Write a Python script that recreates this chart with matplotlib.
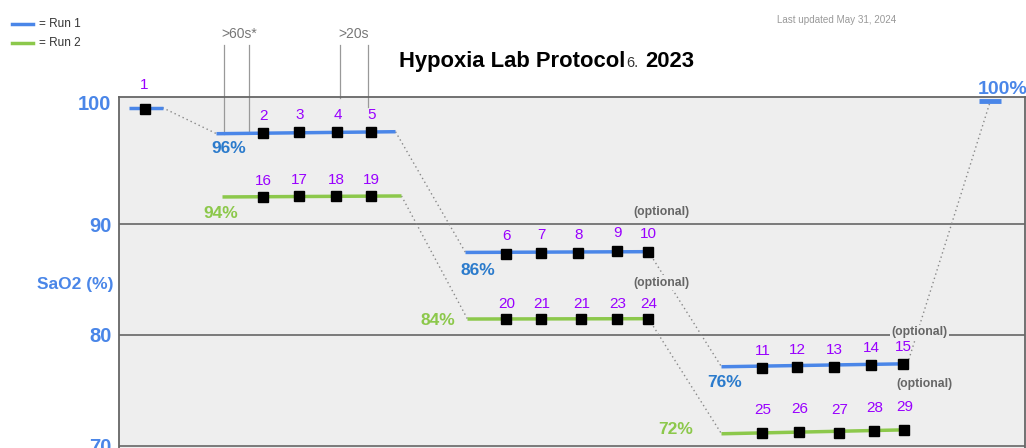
import matplotlib.pyplot as plt
from matplotlib.lines import Line2D
from matplotlib.transforms import ScaledTranslation

plt.rcParams['font.family'] = ['Liberation Sans', 'DejaVu Sans']

############ data #############################################################

# baseline step (point 1) and final recovery step
base_seg_x = [10, 44]
base_seg_y = [100.52, 100.52]
base_pt_x, base_pt_y = 26, 100.43
end_seg_x = [861, 883]
end_seg_y = [101.15, 101.15]

# Run 1 plateaus
run1_seg_x = [[98, 277], [347, 530], [603, 789]]
run1_seg_y = [[98.17, 98.35], [87.45, 87.52], [77.13, 77.40]]
run1_ids = [[2, 3, 4, 5], [6, 7, 8, 9, 10], [11, 12, 13, 14, 15]]
run1_x = [[145, 181, 219, 253], [388, 423, 460, 499, 530], [644, 679, 716, 753, 785]]
run1_y = [[98.26, 98.35, 98.35, 98.35], [87.34, 87.43, 87.43, 87.61, 87.52],
          [77.04, 77.13, 77.13, 77.31, 77.40]]
run1_pct = ['96%', '86%', '76%']
run1_pct_x = [110, 359, 606]
run1_pct_y = [96.82, 85.80, 75.69]

# Run 2 plateaus
run2_seg_x = [[104, 283], [349, 530], [603, 789]]
run2_seg_y = [[92.46, 92.55], [81.44, 81.47], [71.08, 71.44]]
run2_ids = [[16, 17, 18, 19], [20, 21, 21, 23, 24], [25, 26, 27, 28, 29]]
run2_x = [[145, 181, 218, 253], [388, 423, 463, 499, 530], [644, 681, 721, 756, 786]]
run2_y = [[92.46, 92.57, 92.55, 92.57], [81.47, 81.47, 81.47, 81.47, 81.47],
          [71.17, 71.26, 71.17, 71.35, 71.44]]
run2_pct = ['94%', '84%', '72%']
run2_pct_x = [102, 319, 557]
run2_pct_y = [90.95, 81.29, 71.44]

# dwell time marks
dwell_x = [106, 131, 222, 250]
dwell_y0 = [98.18, 98.20, 101.42, 100.61]
dwell_top = 106.2
dwell_lab = ['>60s*', '>20s']
dwell_lab_x = [121, 235]

opt_x = [543, 543, 801, 806]
opt_y = [91.13, 84.72, 80.29, 75.60]

yticks = [70, 80, 90, 100]

############ style #############################################################

BLUE = '#4a86e8'
BLUE_DK = '#2b7bcc'
GREEN = '#8cc84b'
PURPLE = '#9900ff'
BG = '#eeeeee'
GRID = '#666666'

fig = plt.figure(figsize=(10.26, 4.48), dpi=100)
ax = fig.add_axes([0.1155, -0.0444, 0.8835, 0.8268])
ax.set_facecolor(BG)
ax.set_xlim(0, 906.5)
ax.set_ylim(68, 101.44)

for s in ['top', 'left', 'right']:
    ax.spines[s].set_color(GRID)
    ax.spines[s].set_linewidth(1.3)
ax.spines['bottom'].set_visible(False)
for g in yticks[:-1]:
    ax.axhline(g, color=GRID, lw=1.2, zorder=1)

ax.set_xticks([])
ax.set_yticks(yticks)
ax.set_yticklabels([str(t) for t in yticks])
ax.tick_params(axis='y', length=0, pad=5, labelsize=14.5, labelcolor=BLUE)
for lbl in ax.get_yticklabels():
    lbl.set_fontweight('bold')
top_lbl = ax.get_yticklabels()[-1]
top_lbl.set_transform(top_lbl.get_transform() + ScaledTranslation(0, 0.11, fig.dpi_scale_trans))

ax.set_ylabel('SaO2 (%)', rotation=0, color=BLUE, fontsize=12.5, fontweight='bold',
              ha='center', va='center')
ax.yaxis.set_label_coords(-0.048, 0.494)


def dotted(x0, y0, x1, y1):
    ax.plot([x0, x1], [y0, y1], ls=(0, (1, 2.2)), color='#888888', lw=1.0, zorder=2,
            clip_on=False)


def numbers(xs, ys, ids, off):
    for x, y, n in zip(xs, ys, ids):
        ax.annotate(str(n), (x, y), xytext=(0, off), textcoords='offset pixels',
                    ha='center', va='center', color=PURPLE, fontsize=11, zorder=5,
                    annotation_clip=False)


# connectors
dotted(base_seg_x[1], base_seg_y[1], run1_seg_x[0][0], run1_seg_y[0][0])
for segx, segy in [(run1_seg_x, run1_seg_y), (run2_seg_x, run2_seg_y)]:
    for i in range(len(segx) - 1):
        dotted(segx[i][1], segy[i][1], segx[i + 1][0], segy[i + 1][0])
dotted(run1_seg_x[-1][1], run1_seg_y[-1][1], sum(end_seg_x) / 2, end_seg_y[0])

# dwell marks
for x, y0 in zip(dwell_x, dwell_y0):
    ax.plot([x, x], [y0, dwell_top], color='#999999', lw=0.9, clip_on=False, zorder=2)
for lab, x in zip(dwell_lab, dwell_lab_x):
    ax.text(x, dwell_top + 1.0, lab, ha='center', va='center', color='#777777',
            fontsize=10, clip_on=False)

# baseline & end
ax.plot(base_seg_x, base_seg_y, color=BLUE, lw=2.5, zorder=3, solid_capstyle='butt',
        clip_on=False)
ax.plot(base_pt_x, base_pt_y, 's', color='black', ms=7.5, zorder=4)
numbers([base_pt_x], [base_pt_y], [1], 24)
ax.plot(end_seg_x, end_seg_y, color=BLUE, lw=3.5, zorder=3, solid_capstyle='butt',
        clip_on=False)
ax.text(end_seg_x[0] - 2, end_seg_y[0] + 1.05, '100%', ha='left', va='center', color=BLUE,
        fontsize=14, fontweight='bold', clip_on=False)

# runs
runs = [
    (run1_seg_x, run1_seg_y, run1_x, run1_y, run1_ids, BLUE, run1_pct, run1_pct_x,
     run1_pct_y, BLUE_DK, [17, 18, 17]),
    (run2_seg_x, run2_seg_y, run2_x, run2_y, run2_ids, GREEN, run2_pct, run2_pct_x,
     run2_pct_y, GREEN, [16, 15, 23]),
]
for segx, segy, px, py, ids, col, pct, pctx, pcty, pcol, offs in runs:
    for i in range(len(segx)):
        ax.plot(segx[i], segy[i], color=col, lw=2.5, zorder=3, solid_capstyle='butt')
        ax.plot(px[i], py[i], 's', color='black', ms=7.5, zorder=4, ls='none')
        numbers(px[i], py[i], ids[i], offs[i])
        ax.text(pctx[i], pcty[i], pct[i], ha='center', va='center', color=pcol,
                fontsize=12.5, fontweight='bold', zorder=5)

for x, y in zip(opt_x, opt_y):
    ax.text(x, y, '(optional)', ha='center', va='center', color='#666666', fontsize=8.8,
            fontweight='bold', zorder=5,
            bbox=dict(boxstyle='square,pad=0.1', fc=BG, ec='none'))

############ title, legend, note #############################################

W, H = 1026.0, 448.0
fig.text(399 / W, 1 - 67 / H, 'Hypoxia Lab Protocol', ha='left', va='baseline',
         fontsize=15.8, fontweight='bold', color='black')
fig.text(626 / W, 1 - 67 / H, '6.', ha='left', va='baseline', fontsize=10.5, color='#333333')
fig.text(645 / W, 1 - 67 / H, '2023', ha='left', va='baseline', fontsize=15.8,
         fontweight='bold', color='black')
fig.text(777 / W, 1 - 20 / H, 'Last updated May 31, 2024', ha='left', va='center',
         fontsize=7.1, color='#999999')

for i, (lab, col) in enumerate([('= Run 1', BLUE), ('= Run 2', GREEN)]):
    yy = 1 - (24 + 19 * i) / H
    fig.add_artist(Line2D([12 / W, 33 / W], [yy, yy], color=col, lw=2.5,
                          transform=fig.transFigure))
    fig.text(39 / W, yy, lab, ha='left', va='center', fontsize=8.5, color='#333333')

fig.savefig('out.png', dpi=100)
